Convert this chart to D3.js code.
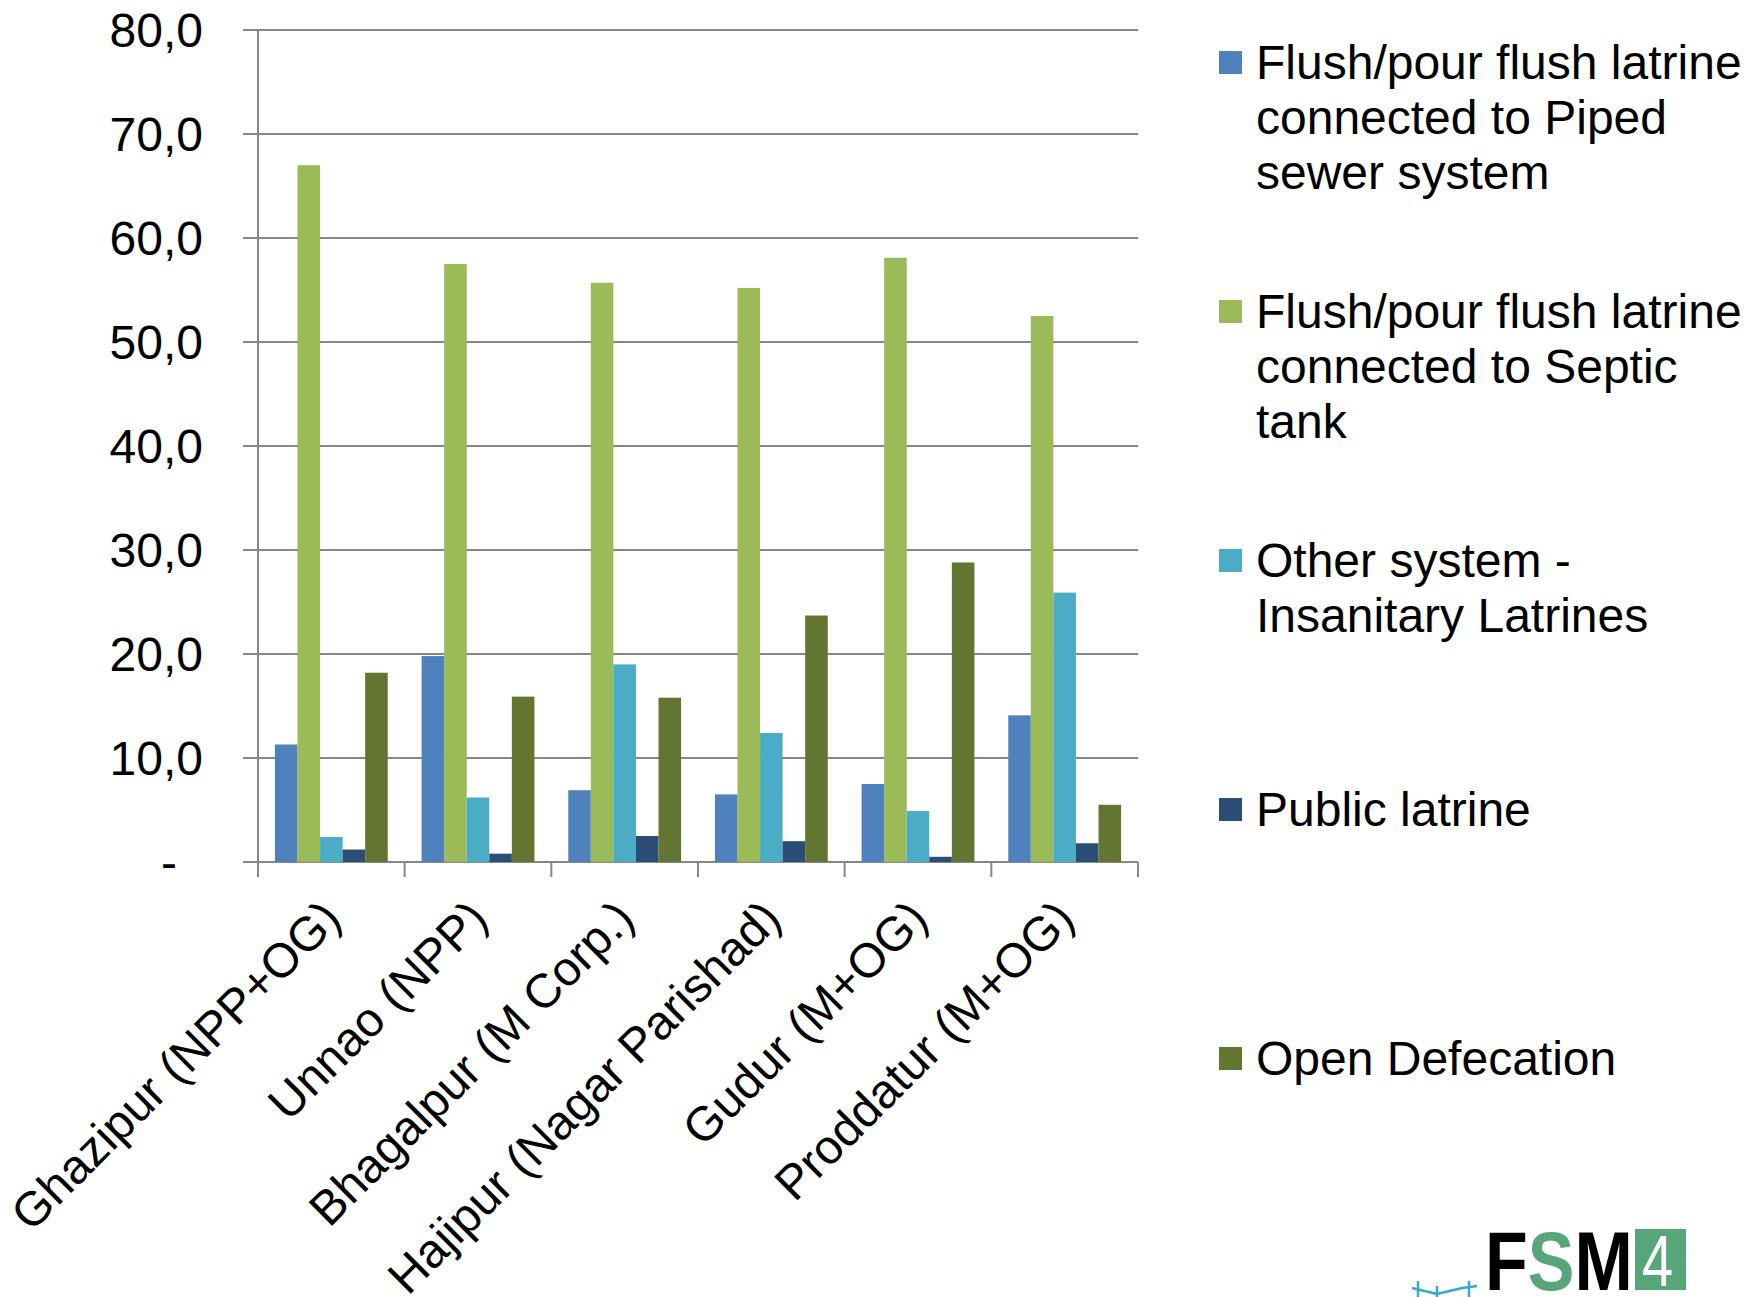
<!DOCTYPE html>
<html>
<head>
<meta charset="utf-8">
<script src="https://cdn.jsdelivr.net/npm/d3@7"></script>
<style>
  body { margin: 0; background: #fff; }
  text { font-family: "Liberation Sans", Arial, sans-serif; fill: #000; }
</style>
</head>
<body>
<div id="chart"></div>
<script>
// Categories (x axis)
const cities = ["Ghazipur (NPP+OG)", "Unnao (NPP)", "Bhagalpur (M Corp.)",
    "Hajipur (Nagar Parishad)", "Gudur (M+OG)", "Proddatur (M+OG)"];

// Series names (legend, split into lines as shown)
const seriesNames = [
    ["Flush/pour flush latrine", "connected to Piped", "sewer system"],
    ["Flush/pour flush latrine", "connected to Septic", "tank"],
    ["Other system -", "Insanitary Latrines"],
    ["Public latrine"],
    ["Open Defecation"]
];
const seriesColors = ["#4f81bd", "#9bbb59", "#4bacc6", "#2c4d75", "#627531"];

// Values (%), one array per series, in city order
const pipedSewer = [11.3, 19.8, 6.9, 6.5, 7.5, 14.1];
const septicTank = [67.0, 57.5, 55.7, 55.2, 58.1, 52.5];
const insanitary = [2.4, 6.2, 19.0, 12.4, 4.9, 25.9];
const publicLatrine = [1.2, 0.8, 2.5, 2.0, 0.5, 1.8];
const openDefecation = [18.2, 15.9, 15.8, 23.7, 28.8, 5.5];

const yTicks = [0, 10, 20, 30, 40, 50, 60, 70, 80];

(function () {
    const width = 1760, height = 1297;
    const series = [pipedSewer, septicTank, insanitary, publicLatrine, openDefecation];
    const fontSize = "48px";

    const svg = d3.select("#chart").append("svg")
        .attr("width", width)
        .attr("height", height);

    const plotLeft = 258, plotRight = 1138, plotTop = 30, plotBottom = 862;

    const x0 = d3.scaleBand().domain(cities).range([plotLeft, plotRight]);
    const x1 = d3.scaleBand().domain(d3.range(series.length))
        .range([0, x0.bandwidth()])
        .paddingOuter(0.75);
    const y = d3.scaleLinear().domain([0, 80]).range([plotBottom, plotTop]);

    const gray = "#878787";

    // Gridlines + y ticks
    svg.append("g")
        .selectAll("line")
        .data(yTicks)
        .join("line")
        .attr("x1", plotLeft - 15)
        .attr("x2", plotRight)
        .attr("y1", d => y(d))
        .attr("y2", d => y(d))
        .attr("stroke", gray)
        .attr("stroke-width", 2);

    // Y labels
    svg.append("g")
        .selectAll("text")
        .data(yTicks)
        .join("text")
        .attr("x", d => d === 0 ? 177 : 203)
        .attr("y", d => y(d))
        .attr("dy", "0.35em")
        .attr("text-anchor", "end")
        .style("font-size", fontSize)
        .text(d => d === 0 ? "-" : d3.format(".1f")(d).replace(".", ","));

    // Bars
    const groups = svg.append("g")
        .selectAll("g")
        .data(cities)
        .join("g")
        .attr("transform", d => `translate(${x0(d)},0)`);

    groups.selectAll("rect")
        .data((c, i) => series.map((s, k) => ({ k, v: s[i] })))
        .join("rect")
        .attr("x", d => x1(d.k))
        .attr("width", x1.bandwidth())
        .attr("y", d => y(d.v))
        .attr("height", d => y(0) - y(d.v))
        .attr("fill", d => seriesColors[d.k]);

    // Axes lines
    svg.append("line")
        .attr("x1", plotLeft).attr("x2", plotLeft)
        .attr("y1", plotTop).attr("y2", plotBottom + 15)
        .attr("stroke", gray).attr("stroke-width", 2);

    svg.append("g")
        .selectAll("line")
        .data(d3.range(cities.length + 1))
        .join("line")
        .attr("x1", i => plotLeft + i * x0.step())
        .attr("x2", i => plotLeft + i * x0.step())
        .attr("y1", plotBottom)
        .attr("y2", plotBottom + 15)
        .attr("stroke", gray)
        .attr("stroke-width", 2);

    // Category labels, rotated
    svg.append("g")
        .selectAll("text")
        .data(cities)
        .join("text")
        .attr("text-anchor", "end")
        .attr("transform", d => `translate(${x0(d) + x0.bandwidth() / 2 + 12},${plotBottom + 59}) rotate(-45)`)
        .style("font-size", fontSize)
        .text(d => d);

    // Legend
    const legend = svg.append("g")
        .selectAll("g")
        .data(seriesNames)
        .join("g")
        .attr("transform", (d, i) => `translate(1219,${62 + i * 249})`);

    legend.append("rect")
        .attr("x", 0)
        .attr("y", -11)
        .attr("width", 23)
        .attr("height", 23)
        .attr("fill", (d, i) => seriesColors[i]);

    legend.append("text")
        .style("font-size", fontSize)
        .selectAll("tspan")
        .data(d => d)
        .join("tspan")
        .attr("x", 37)
        .attr("y", (d, j) => j * 55)
        .attr("dy", "0.35em")
        .text(d => d);

    // Logo (bottom right, cut off by the frame)
    const logo = svg.append("g");
    logo.append("path")
        .attr("d", "M1412,1288 L1437,1294 L1462,1288 L1477,1286 M1418,1281 V1297 M1437,1286 V1297 M1469,1281 V1297")
        .attr("fill", "none")
        .attr("stroke", "#3aa7cf")
        .attr("stroke-width", 2.5);
    const fsm = logo.append("text")
        .attr("transform", "translate(1485,1290) scale(1,1.2)")
        .style("font-size", "70px").style("font-weight", "bold");
    fsm.append("tspan").text("F");
    fsm.append("tspan").style("fill", "#56a679").text("S");
    fsm.append("tspan").text("M");
    logo.append("rect").attr("x", 1635).attr("y", 1229)
        .attr("width", 51).attr("height", 61).attr("fill", "#56a679");
    logo.append("text")
        .attr("transform", "translate(1642,1286) scale(1,1.3)")
        .style("font-size", "56px").style("fill", "#fff")
        .text("4");
})();
</script>
</body>
</html>
